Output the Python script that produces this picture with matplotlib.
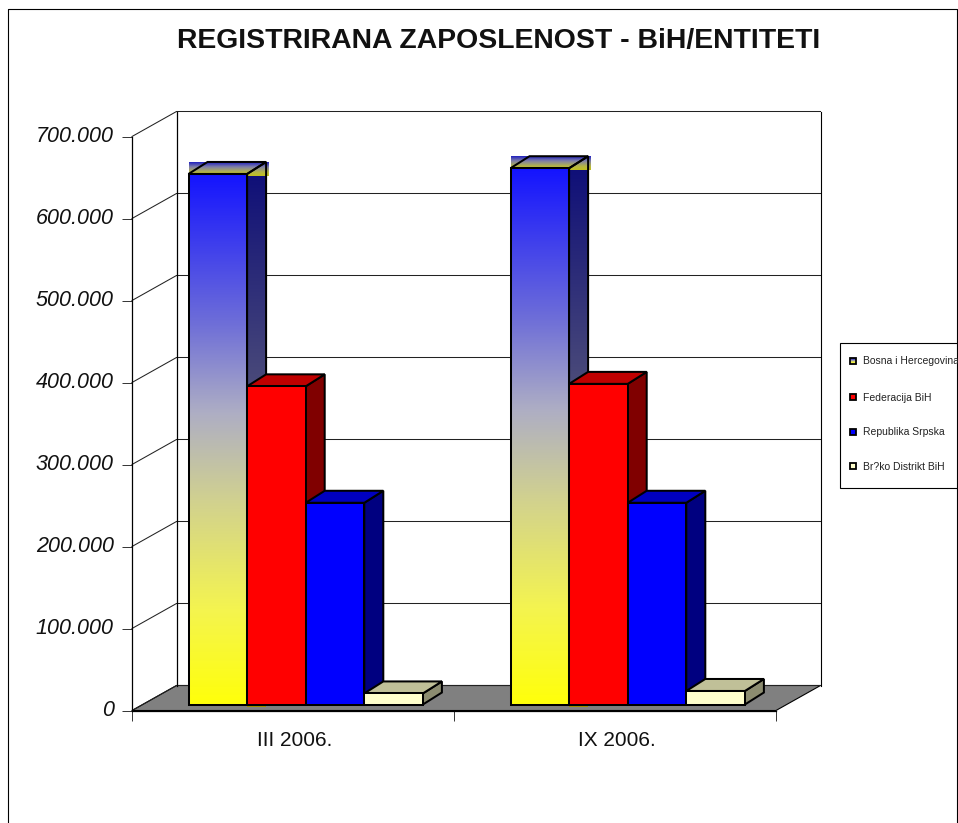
import numpy as np
import matplotlib
matplotlib.use("Agg")
import matplotlib.pyplot as plt
from matplotlib.patches import Polygon, Rectangle
from matplotlib.colors import LinearSegmentedColormap, to_rgb
from matplotlib.transforms import ScaledTranslation

plt.rcParams['font.family'] = ['Liberation Sans', 'DejaVu Sans']

title = "REGISTRIRANA ZAPOSLENOST - BiH/ENTITETI"
categories = ["III 2006.", "IX 2006."]
series_names = ["Bosna i Hercegovina", "Federacija BiH", "Republika Srpska", "Br?ko Distrikt BiH"]
bih = [647000, 654000]
fbih = [388000, 391000]
rs = [246000, 246000]
brcko = [13500, 16500]
yticks = [0, 100000, 200000, 300000, 400000, 500000, 600000, 700000]
ytick_labels = ["0", "100.000", "200.000", "300.000", "400.000", "500.000", "600.000", "700.000"]

W, H = 958, 823
fig = plt.figure(figsize=(W/100, H/100), dpi=100)
L, R, T, B = 132, 776, 136.5, 710.5
ax = fig.add_axes([L/W, 1-B/H, (R-L)/W, (B-T)/H])
ax.patch.set_alpha(0)
ax.set_xlim(0, 2)
ax.set_ylim(0, 700000)
px = 2/(R-L)
py = 700000/(B-T)

# overlay for page frame and legend, in pixels
ov = fig.add_axes([0, 0, 1, 1], zorder=5)
ov.set_xlim(0, W); ov.set_ylim(H, 0); ov.axis('off'); ov.patch.set_alpha(0)
ov.plot([8.5, 8.5, 957.5, 957.5], [H, 8.5, 8.5, H], color='k', lw=0.8)
ov.text(499, 40.5, title, ha='center', va='center', fontsize=20.4, fontweight='bold', color='#111111')

# walls
wx, wy = 44.5*px, 25*py
ax.add_patch(Polygon([(0, 0), (2, 0), (2+wx, wy), (wx, wy)], facecolor='#808080',
                     edgecolor='k', lw=0.8, clip_on=False, zorder=1))
for v in yticks:
    ax.plot([0, wx, 2+wx], [v, v+wy, v+wy], color='#222222', lw=0.75, clip_on=False, zorder=1.5)
ax.plot([wx, wx], [wy, 700000+wy], color='k', lw=0.9, clip_on=False, zorder=1.5)
ax.plot([2+wx, 2+wx], [wy, 700000+wy], color='k', lw=0.8, clip_on=False, zorder=1.5)

ramp = LinearSegmentedColormap.from_list('r', [(0, '#1414FF'), (0.28, '#6E6ED8'), (0.45, '#AEAEC4'),
                                                (0.62, '#D2D28E'), (0.82, '#F4F450'), (1, '#FFFF0A')])
dark = LinearSegmentedColormap.from_list('d', [(0, '#0C0C78'), (0.45, '#50507A'), (1, '#808010')])
cap = LinearSegmentedColormap.from_list('c', [(0, '#2020C0'), (0.35, '#8080A8'), (0.75, '#B8B840'), (1, '#C0C020')])
grad = np.linspace(0, 1, 256).reshape(-1, 1)

bw = 58.6*px
x_start = 56.5*px
y_base = 6*py
dx, dy = 19*px, 12*py
LW = 1.45

def box(x, v, front, side, top, z):
    y0, y1 = y_base, y_base+v
    e = dict(edgecolor='k', lw=LW, clip_on=False, zorder=z, joinstyle='miter')
    ax.add_patch(Polygon([(x+bw, y0), (x+bw+dx, y0+dy), (x+bw+dx, y1+dy), (x+bw, y1)], facecolor=side, **e))
    ax.add_patch(Polygon([(x, y1), (x+dx, y1+dy), (x+bw+dx, y1+dy), (x+bw, y1)], facecolor=top, **e))
    ax.add_patch(Rectangle((x, y0), bw, v, facecolor=front, **e))

def gradient_box(x, v, z):
    y0, y1 = y_base, y_base+v
    e = dict(facecolor='none', edgecolor='k', lw=LW, clip_on=False, zorder=z+.2, joinstyle='miter')
    # side
    sp = Polygon([(x+bw, y0), (x+bw+dx, y0+dy), (x+bw+dx, y1+dy), (x+bw, y1)], **e)
    ax.add_patch(sp)
    im = ax.imshow(grad, cmap=dark, aspect='auto', extent=(x+bw, x+bw+dx, y0, y1+dy), zorder=z, clip_on=True)
    im.set_clip_path(sp)
    # gradient strip of the cap
    ax.imshow(grad, cmap=cap, aspect='auto', extent=(x, x+bw+20.5*px, y1-2*py, y1+dy), zorder=z+.1)
    ax.add_patch(Polygon([(x, y1), (x+dx, y1+dy), (x+bw+dx, y1+dy), (x+bw, y1)], **e))
    # front
    ax.imshow(grad, cmap=ramp, aspect='auto', extent=(x, x+bw, y0, y1), zorder=z+.3)
    ax.add_patch(Rectangle((x, y0), bw, v, **{**e, 'zorder': z+.4}))
    # olive sliver below the base
    ax.add_patch(Rectangle((x+bw, y0-2*py), dx, 2*py, facecolor='#A09000', edgecolor='none', zorder=z-.1))

for i in range(len(categories)):
    x = i + x_start
    gradient_box(x, bih[i], 3)
    box(x+bw, fbih[i], '#FF0000', '#800000', '#C00000', 4)
    box(x+2*bw, rs[i], '#0000FF', '#000080', '#0000C0', 5)
    box(x+3*bw, brcko[i], '#FFFFCC', '#8C8C70', '#C0C098', 6)

ax.set_xlim(0, 2)
ax.set_ylim(0, 700000)

# axes
for s in ['top', 'right']:
    ax.spines[s].set_visible(False)
for s in ['left', 'bottom']:
    ax.spines[s].set_linewidth(0.9)
    ax.spines[s].set_zorder(2)
ax.set_yticks(yticks)
ax.set_yticklabels(ytick_labels, fontsize=15.5, fontstyle='italic', color='#111111')
ax.tick_params(axis='y', length=7.2, width=0.7, pad=6, color='#333333')
shift = ScaledTranslation(0, 2/72, fig.dpi_scale_trans)
for lab in ax.get_yticklabels():
    lab.set_transform(lab.get_transform() + shift)
ax.set_xticks([0, 1, 2])
ax.set_xticklabels([])
ax.set_xticks([0.5, 1.5], minor=True)
ax.set_xticklabels(categories, minor=True, fontsize=15, color='#111111')
ax.tick_params(axis='x', which='major', length=7.2, width=0.7, color='#333333')
ax.tick_params(axis='x', which='minor', length=0, pad=15)
xshift = ScaledTranslation(1.2/72, 0, fig.dpi_scale_trans)
for lab in ax.get_xticklabels(minor=True):
    lab.set_transform(lab.get_transform() + xshift)

# legend
ov.add_patch(Rectangle((840.5, 342.5), 130, 145, facecolor='white', edgecolor='k', lw=0.8))
ys = [360.5, 397, 431.5, 466]
ov.imshow(np.array([[to_rgb('#3030C0')], [to_rgb('#A0A0B0')], [to_rgb('#F0F040')]]),
          extent=(851, 856, 363, 358), aspect='auto', zorder=8)
ov.set_xlim(0, W); ov.set_ylim(H, 0)
swatch = ['none', '#FF0000', '#0000FF', '#FFFFCC']
for n, y, c in zip(series_names, ys, swatch):
    ov.add_patch(Rectangle((850.5, y-3), 6, 6, facecolor=c, edgecolor='k', lw=1.3, zorder=9))
    ov.text(863, y+0.5, n, fontsize=7.45, va='center', ha='left', color='#222222', zorder=9)

fig.savefig('out.png', dpi=100)
